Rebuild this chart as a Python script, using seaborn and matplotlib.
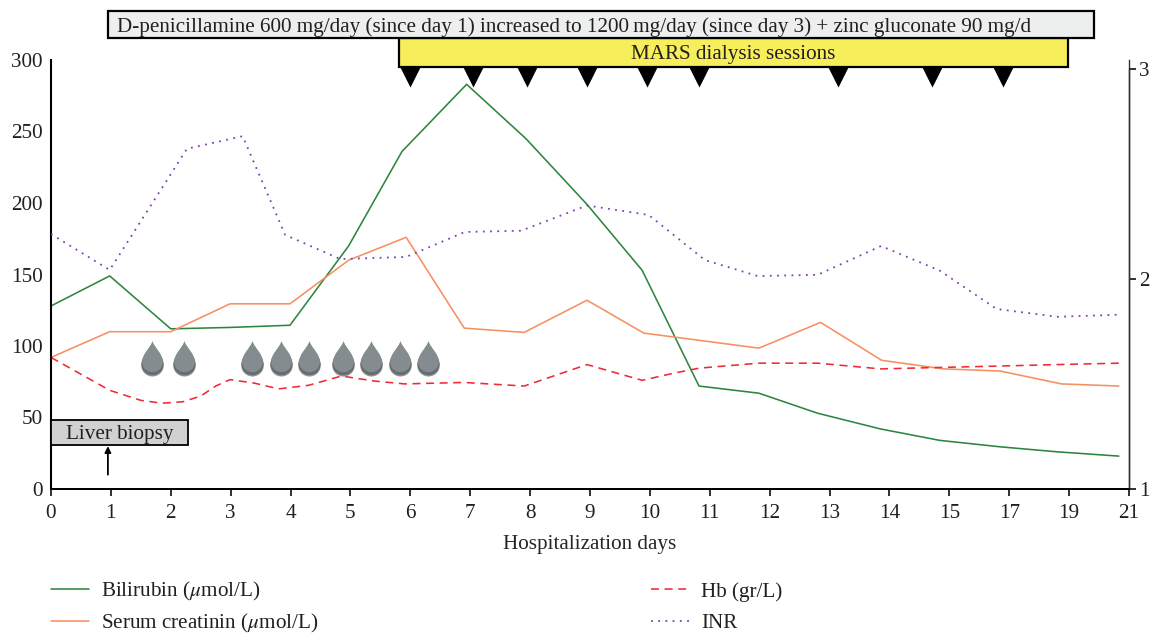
import matplotlib
matplotlib.use("Agg")
import matplotlib.pyplot as plt
from matplotlib.patches import Rectangle
from matplotlib.path import Path
import seaborn as sns

tick_labels = ['0','1','2','3','4','5','6','7','8','9','10','11','12','13','14','15','17','19','21']

# x values are slot numbers on the uneven day axis
bili_x = [0, 0.98, 2.0, 3.0, 3.99, 4.97, 5.86, 6.94, 7.93, 8.95, 9.87, 10.82, 11.82, 12.8, 13.85, 14.84, 15.85, 16.8, 17.83]
bili = [128, 149, 112, 113, 114.5, 170, 236, 283, 245, 199, 153, 72, 67, 53, 42, 34, 29.5, 26, 23]
crea_x = [0, 0.98, 2.0, 2.99, 3.99, 4.97, 5.93, 6.9, 7.9, 8.95, 9.9, 10.82, 11.82, 12.85, 13.87, 14.9, 15.85, 16.87, 17.83]
crea = [92, 110, 110, 129.5, 129.5, 160, 176, 112.5, 109.5, 132, 109, 104, 98.5, 116.5, 90, 84, 82.5, 73.5, 72]
hb_x = [0, 0.98, 1.5, 1.85, 2.2, 2.5, 2.75, 2.99, 3.4, 3.8, 4.3, 4.85, 5.4, 5.9, 6.9, 7.9, 8.95, 9.87, 10.4, 10.82, 11.82, 12.8, 13.85, 14.84, 15.85, 16.8, 17.83]
hb = [92, 69, 62, 60, 61, 65, 72, 76.5, 74, 70, 72.5, 79, 75.5, 73.5, 74.5, 72, 87, 76, 81, 84.5, 88, 88, 84, 85, 86, 87, 88]
inr_x = [0, 0.98, 2.27, 3.2, 3.91, 4.83, 5.93, 6.91, 7.85, 8.95, 9.98, 10.92, 11.8, 12.8, 13.86, 14.84, 15.79, 16.81, 17.83]
inr = [2.214, 2.043, 2.62, 2.68, 2.21, 2.095, 2.105, 2.224, 2.23, 2.35, 2.305, 2.09, 2.014, 2.02, 2.157, 2.04, 1.857, 1.82, 1.83]

mars_sessions = [6.0, 7.05, 7.95, 8.95, 9.95, 10.82, 13.14, 14.71, 15.9]
transfusions = [1.69, 2.22, 3.36, 3.84, 4.31, 4.87, 5.34, 5.83, 6.29]

DARK = '#231f20'
GREEN = '#2e8540'
ORANGE = '#f79060'
RED = '#ee2b35'
PURPLE = '#7b42b0'
FS = 15.2

sns.set_style("white")
plt.rcParams['font.family'] = ['Liberation Serif', 'DejaVu Serif']
plt.rcParams['mathtext.fontset'] = 'stix'
plt.rcParams['text.color'] = DARK
plt.rcParams['xtick.color'] = DARK
plt.rcParams['ytick.color'] = DARK

W, H = 1151, 633
fig = plt.figure(figsize=(W / 100, H / 100), dpi=100)
ax = fig.add_axes([51 / W, 1 - 489 / H, (1129 - 51) / W, (489 - 60) / H])
ax2 = ax.twinx()

sns.lineplot(x=bili_x, y=bili, ax=ax, color=GREEN, lw=1.15, sort=False, estimator=None, label='Bilirubin ($\\mu$mol/L)')
sns.lineplot(x=crea_x, y=crea, ax=ax, color=ORANGE, lw=1.15, sort=False, estimator=None, label='Serum creatinin ($\\mu$mol/L)')
sns.lineplot(x=hb_x, y=hb, ax=ax, color=RED, lw=1.15, sort=False, estimator=None, dashes=False, linestyle=(0, (5, 3.5)), label='Hb (gr/L)')
sns.lineplot(x=inr_x, y=inr, ax=ax2, color=PURPLE, lw=1.3, sort=False, estimator=None, dashes=False, linestyle=(0, (1, 3)), label='INR')

handles, labels = ax.get_legend_handles_labels()
h2, l2 = ax2.get_legend_handles_labels()
ax.get_legend().remove()
ax2.get_legend().remove()

ax.set_xlim(0, 18)
ax.set_ylim(0, 300)
ax2.set_ylim(1, 1 + 429 / 210)
ax.set_xticks(range(19))
ax.set_xticklabels(tick_labels)
ax.set_yticks([0, 50, 100, 150, 200, 250, 300])
ax2.set_yticks([1, 2, 3])
ax.tick_params(axis='x', length=5, width=1.3, labelsize=FS, pad=5.5, bottom=True)
ax.tick_params(axis='y', length=0, labelsize=FS, pad=6, left=False)
ax2.tick_params(axis='y', length=5, width=1.3, labelsize=FS, pad=2, right=True)
ax.set_xlabel('Hospitalization days', fontsize=FS, labelpad=9)

for a in (ax, ax2):
    a.spines['top'].set_visible(False)
    a.spines['left'].set_linewidth(1.5)
    a.spines['left'].set_color('black')
    a.spines['bottom'].set_linewidth(1.3)
    a.spines['bottom'].set_color('black')
    a.spines['right'].set_linewidth(1.0)
    a.spines['right'].set_color('#333333')
ax2.spines['right'].set_bounds(1, 3)
ax2.spines['left'].set_visible(False)
ax2.set_ylabel('')
ax.set_ylabel('')

# dialysis session markers hang below the yellow bar
ax.scatter(mars_sessions, [288] * len(mars_sessions), marker='v', s=210, color='black', linewidths=0, zorder=6)

# drop marker for the transfusions
verts = [(0, 1), (0.08, 0.6), (0.66, 0.2), (0.66, -0.34), (0.66, -0.74), (0.34, -1), (0, -1),
         (-0.34, -1), (-0.66, -0.74), (-0.66, -0.34), (-0.66, 0.2), (-0.08, 0.6), (0, 1), (0, 1)]
codes = [Path.MOVETO] + [Path.CURVE4] * 12 + [Path.CLOSEPOLY]
drop = Path(verts, codes)
n_drops = len(transfusions)
ax.scatter(transfusions, [91] * n_drops, marker=drop, s=600, color='#8f9598', linewidths=0, zorder=4)
ax.scatter(transfusions, [91.6] * n_drops, marker=drop, s=575, color='#666c6f', linewidths=0, zorder=4)
ax.scatter(transfusions, [93] * n_drops, marker=drop, s=510, color='#858c8f', linewidths=0, zorder=4)

# liver biopsy box and arrow
ax.add_patch(Rectangle((0, 30.8), 2.29, 17.5, facecolor='#d0d2d2', edgecolor='black', linewidth=1.3, zorder=5, clip_on=False))
ax.text(1.145, 38.2, 'Liver biopsy', ha='center', va='center', fontsize=FS, zorder=6)
ax.annotate('', xy=(0.95, 30), xytext=(0.95, 10),
            arrowprops=dict(arrowstyle='-|>', color='black', lw=1.3, mutation_scale=9, shrinkA=0, shrinkB=0))


def px_box(x0, y0, x1, y1, face):
    fig.add_artist(Rectangle((x0 / W, 1 - y1 / H), (x1 - x0) / W, (y1 - y0) / H, transform=fig.transFigure,
                             facecolor=face, edgecolor='black', linewidth=1.6, zorder=5))


px_box(399, 38, 1068, 67, '#f7ee5c')
px_box(108, 11, 1094, 38, '#edeeee')
fig.text(574 / W, 1 - 27 / H, 'D-penicillamine 600 mg/day (since day 1) increased to 1200\u2009mg/day (since day 3) + zinc gluconate 90 mg/d',
         ha='center', va='center', fontsize=FS, zorder=6)
fig.text(733 / W, 1 - 54 / H, 'MARS dialysis sessions', ha='center', va='center', fontsize=FS, zorder=6)

leg_args = dict(loc='upper left', frameon=False, fontsize=FS, borderpad=0, borderaxespad=0,
                handlelength=1.78, handletextpad=0.6)
fig.legend(handles[:2], labels[:2], bbox_to_anchor=(51 / W, 1 - 580 / H), labelspacing=0.41, **leg_args)
fig.legend(handles[2:] + h2, labels[2:] + l2, bbox_to_anchor=(651 / W, 1 - 582 / H), labelspacing=0.55, **leg_args)

fig.savefig('out.png', dpi=100)
